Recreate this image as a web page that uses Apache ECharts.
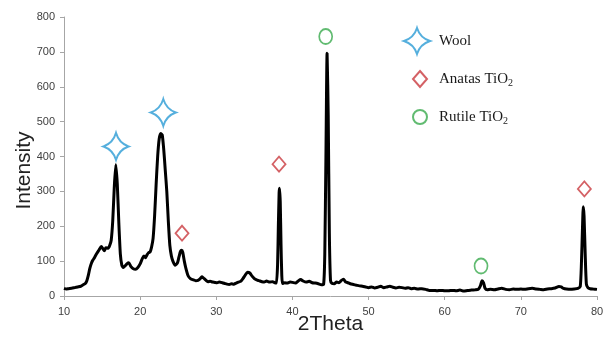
<!DOCTYPE html>
<html>
<head>
<meta charset="utf-8">
<script src="https://cdn.jsdelivr.net/npm/echarts@6/dist/echarts.min.js"></script>
<style>html,body{margin:0;padding:0;background:#fff}#c{width:603px;height:343px}</style>
</head>
<body>
<div id="c"></div>
<script>
// XRD pattern (2Theta, Intensity)
var twoTheta = [10.0,10.3,10.6,11.0,11.4,11.8,12.2,12.5,12.8,13.0,13.2,13.4,13.6,13.8,14.0,14.3,14.6,14.9,15.1,15.3,15.5,15.8,16.0,16.2,16.4,16.6,16.8,17.0,17.2,17.4,17.6,17.8,18.0,18.3,18.5,18.8,19.1,19.4,19.7,20.0,20.3,20.5,20.7,20.9,21.1,21.3,21.5,21.7,21.9,22.1,22.3,22.5,22.7,22.9,23.1,23.3,23.5,23.7,23.9,24.1,24.3,24.6,24.9,25.1,25.3,25.45,25.6,25.8,26.0,26.3,26.6,27.0,27.3,27.6,27.9,28.1,28.3,28.6,28.9,29.2,29.5,29.8,30.1,30.4,30.8,31.1,31.4,31.7,32.0,32.3,32.6,32.9,33.2,33.5,33.8,34.1,34.4,34.7,35.0,35.3,35.6,36.0,36.3,36.6,37.0,37.4,37.7,37.9,38.05,38.15,38.25,38.3,38.4,38.5,38.6,38.7,39.0,39.3,39.7,40.0,40.4,40.8,41.1,41.4,41.8,42.2,42.6,43.0,43.4,43.8,44.1,44.25,44.4,44.55,44.7,44.85,45.0,45.2,45.5,45.8,46.1,46.4,46.7,47.0,47.3,47.6,48.0,48.4,48.8,49.2,49.6,50.0,50.4,50.8,51.2,51.6,52.0,52.4,52.8,53.2,53.6,54.0,54.4,54.8,55.2,55.6,56.0,56.5,57.0,57.5,58.0,58.5,59.0,59.5,60.0,60.5,61.0,61.5,62.0,62.5,63.0,63.5,64.0,64.4,64.7,64.9,65.1,65.3,65.6,66.0,66.5,67.0,67.5,68.0,68.5,69.0,69.5,70.0,70.5,71.0,71.5,72.0,72.5,73.0,73.5,74.0,74.5,75.0,75.3,75.6,76.0,76.5,77.0,77.5,77.8,77.95,78.1,78.2,78.3,78.45,78.6,78.8,79.1,79.5,80.0];
var intensity = [22,20,21,22,24,26,28,32,36,44,60,80,94,103,110,122,132,142,136,130,138,137,145,160,215,310,376,320,210,120,88,82,86,93,95,84,78,77,82,92,108,115,110,118,124,126,140,165,230,320,400,450,466,462,420,360,300,215,145,115,100,88,95,112,128,131,125,100,80,58,50,46,44,45,50,55,52,46,41,42,40,39,38,40,38,36,34,33,35,34,37,40,42,50,60,68,66,57,50,46,44,41,40,43,40,41,38,37,90,200,295,309,270,150,60,36,38,37,40,39,37,44,47,43,40,42,38,37,35,32,34,120,400,696,520,180,45,36,35,40,38,44,48,40,38,35,33,31,29,28,26,24,26,23,25,28,24,26,28,25,23,25,24,22,24,21,22,20,21,19,16,16,15,16,15,15,16,15,17,14,16,17,18,19,30,44,38,22,18,19,18,20,22,19,18,20,19,20,19,21,22,20,19,18,20,21,23,27,26,22,20,19,20,22,27,90,200,256,230,120,35,24,21,20,19];

// Peak annotation marker positions [2Theta, Intensity]
var woolMarks = [[16.83, 429], [23.04, 526]];
var anatasMarks = [[25.5, 180], [38.24, 378], [78.34, 307]];
var rutileMarks = [[44.37, 744], [64.77, 86]];

var xTicks = [10, 20, 30, 40, 50, 60, 70, 80];
var yTicks = [0, 100, 200, 300, 400, 500, 600, 700, 800];

var seriesNames = ['Wool', 'Anatas TiO2', 'Rutile TiO2'];

var pattern = twoTheta.map(function (t, i) { return [t, intensity[i]]; });

var starPath = 'path://M0,-10 Q2.4,-2.4 10,0 Q2.4,2.4 0,10 Q-2.4,2.4 -10,0 Q-2.4,-2.4 0,-10 Z';
var blue = '#2a9bd4', red = '#c9393f', green = '#3aaa4e';

var legendText = {
  fontFamily: 'Liberation Serif', fontSize: 15, color: '#1a1a1a',
  rich: { sub: { fontFamily: 'Liberation Serif', fontSize: 10, color: '#1a1a1a', padding: [9, 0, 0, 0] } }
};
function legendFmt(n) { return n.replace('TiO2', 'TiO{sub|2}'); }

var chart = echarts.init(document.getElementById('c'), null, { renderer: 'canvas' });
chart.setOption({
  animation: false,
  backgroundColor: '#fff',
  grid: { left: 64, right: 6, top: 17, bottom: 47, outerBoundsMode: 'none', containLabel: false },
  legend: [
    { data: [seriesNames[0]], orient: 'vertical', padding: 0, left: 403, top: 27, itemWidth: 26, itemHeight: 26,
      formatter: legendFmt, textStyle: Object.assign({ padding: [0, 0, 0, 4] }, legendText) },
    { data: [seriesNames[1]], orient: 'vertical', padding: 0, left: 412, top: 70, itemWidth: 14, itemHeight: 16,
      formatter: legendFmt, textStyle: Object.assign({ padding: [0, 0, 0, 7] }, legendText) },
    { data: [seriesNames[2]], orient: 'vertical', padding: 0, left: 412, top: 109, itemWidth: 14, itemHeight: 15,
      formatter: legendFmt, textStyle: Object.assign({ padding: [0, 0, 0, 7] }, legendText) }
  ],
  xAxis: {
    type: 'value', min: 10, max: 80, interval: 10,
    name: '2Theta', nameLocation: 'middle', nameGap: 18, nameMoveOverlap: false,
    nameTextStyle: { fontFamily: 'Liberation Sans', fontSize: 21, color: '#222' },
    axisLine: { lineStyle: { color: '#a6a6a6', width: 1 } },
    axisTick: { show: true, length: 4, lineStyle: { color: '#a6a6a6' } },
    axisLabel: { margin: 10, fontFamily: 'Liberation Sans', fontSize: 11, color: '#404040',
      customValues: xTicks },
    splitLine: { show: false }
  },
  yAxis: {
    type: 'value', min: 0, max: 800, interval: 100,
    name: 'Intensity', nameLocation: 'middle', nameGap: 29, nameMoveOverlap: false,
    nameTextStyle: { fontFamily: 'Liberation Sans', fontSize: 21, color: '#222', padding: [0, 28, 0, 0] },
    axisLine: { show: true, lineStyle: { color: '#a6a6a6', width: 1 } },
    axisTick: { show: true, length: 4, lineStyle: { color: '#a6a6a6' } },
    axisLabel: { margin: 9, fontFamily: 'Liberation Sans', fontSize: 11, color: '#404040',
      customValues: yTicks },
    splitLine: { show: false }
  },
  series: [
    { type: 'line', name: 'XRD', data: pattern, symbol: 'none', smooth: 0.2,
      lineStyle: { color: '#000', width: 3 }, itemStyle: { color: '#000' }, z: 2 },
    { type: 'scatter', name: seriesNames[0], data: woolMarks, symbol: starPath, symbolSize: [25, 27],
      itemStyle: { color: 'rgba(255,255,255,0)', borderColor: blue, borderWidth: 2 }, z: 3 },
    { type: 'scatter', name: seriesNames[1], data: anatasMarks, symbol: 'diamond', symbolSize: [13, 15],
      itemStyle: { color: 'rgba(255,255,255,0)', borderColor: red, borderWidth: 1.8 }, z: 3 },
    { type: 'scatter', name: seriesNames[2], data: rutileMarks, symbol: 'circle', symbolSize: [13, 15],
      itemStyle: { color: 'rgba(255,255,255,0)', borderColor: green, borderWidth: 1.8 }, z: 3 }
  ]
});
</script>
</body>
</html>
